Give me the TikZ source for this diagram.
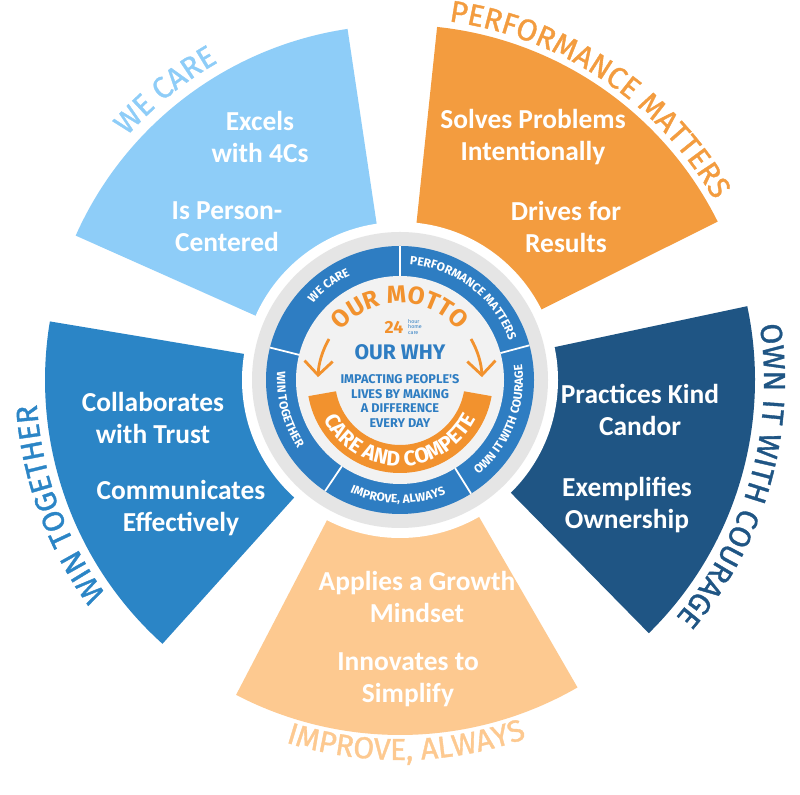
\documentclass[tikz,border=0pt]{standalone}
\usepackage{fontspec}
\setmainfont{Carlito}
\newfontfamily\dinfont{Fira Sans}
\newfontfamily\dinmed{Fira Sans}[FakeBold=1.2]
\usetikzlibrary{decorations.text,arrows.meta}
\definecolor{wecare}{HTML}{8ECDF8}
\definecolor{perform}{HTML}{F39C3F}
\definecolor{ownit}{HTML}{1F5584}
\definecolor{improve}{HTML}{FDC990}
\definecolor{wintog}{HTML}{2B85C6}
\definecolor{ringblue}{HTML}{2E7DC2}
\definecolor{mottoor}{HTML}{F2922E}
\tikzset{every node/.style={font=\bfseries\fontsize{7.8}{9.2}\selectfont,text=white,align=center},
  outerlbl/.style={decorate,decoration={text along path,text align=center}},
  ringlbl/.style={decorate,decoration={text along path,text align=center}}}
\begin{document}
\begin{tikzpicture}[x=0.01cm,y=0.01cm]
\useasboundingbox[fill=white] (0,0) rectangle (800,-795);
\coordinate (c) at (400,-380);
% sectors
\fill[wecare] (c) -- ++(98.5:355) arc[start angle=98.5,end angle=156,radius=355] -- cycle;
\fill[perform] (c) -- ++(26.5:355) arc[start angle=26.5,end angle=84,radius=355] -- cycle;
\fill[ownit] (c) -- ++(-45.5:355) arc[start angle=-45.5,end angle=12,radius=355] -- cycle;
\fill[improve] (c) -- ++(-117.5:355) arc[start angle=-117.5,end angle=-60,radius=355] -- cycle;
\fill[wintog] (c) -- ++(170.5:355) arc[start angle=170.5,end angle=228,radius=355] -- cycle;
% centre disk
\fill[white] (c) circle[radius=158];
\fill[black!10] (c) circle[radius=148];
\fill[ringblue] (c) circle[radius=134];
\fill[black!5] (c) circle[radius=104];
\foreach \a in {90,15,-58,-124,166}
  \draw[white,line width=0.5pt] (c) ++(\a:104) -- ++(\a:30);
% outer labels
\path[outerlbl,decoration={text={|\dinmed\fontsize{8.6}{8.6}\selectfont\color{wecare}|WE CARE}}]
  (c) ++(148:366) arc[start angle=148,end angle=110,radius=366];
\path[outerlbl,decoration={text={|\dinmed\fontsize{8.6}{8.6}\selectfont\color{perform}|PERFORMANCE MATTERS}}]
  (c) ++(88:362) arc[start angle=88,end angle=24,radius=362];
\path[outerlbl,decoration={text={|\dinmed\fontsize{8.6}{8.6}\selectfont\color{ownit}|OWN IT WITH COURAGE}}]
  (c) ++(20:364) arc[start angle=20,end angle=-52,radius=364];
\path[outerlbl,decoration={text={|\dinmed\fontsize{8.6}{8.6}\selectfont\color{improve}|IMPROVE, ALWAYS}}]
  (c) ++(-116:380) arc[start angle=-116,end angle=-62,radius=380];
\path[outerlbl,decoration={text={|\dinmed\fontsize{8.6}{8.6}\selectfont\color{wintog}|WIN TOGETHER}}]
  (c) ++(234:364) arc[start angle=234,end angle=166,radius=364];
% ring labels
\path[ringlbl,decoration={text={|\dinfont\bfseries\fontsize{3.4}{3.4}\selectfont\color{white}|WE CARE}}]
  (c) ++(150:116) arc[start angle=150,end angle=104,radius=116];
\path[ringlbl,decoration={text={|\dinfont\bfseries\fontsize{3.4}{3.4}\selectfont\color{white}|PERFORMANCE MATTERS}}]
  (c) ++(88:116) arc[start angle=88,end angle=17,radius=116];
\path[ringlbl,decoration={text={|\dinfont\bfseries\fontsize{3.4}{3.4}\selectfont\color{white}|OWN IT WITH COURAGE}}]
  (c) ++(-56:123) arc[start angle=-56,end angle=13,radius=123];
\path[ringlbl,decoration={text={|\dinfont\bfseries\fontsize{3.4}{3.4}\selectfont\color{white}|IMPROVE, ALWAYS}}]
  (c) ++(-122:123) arc[start angle=-122,end angle=-60,radius=123];
\path[ringlbl,decoration={text={|\dinfont\bfseries\fontsize{3.4}{3.4}\selectfont\color{white}|WIN TOGETHER}}]
  (c) ++(164:123) arc[start angle=164,end angle=226,radius=123];
% motto
\path[ringlbl,decoration={text={|\dinfont\bfseries\fontsize{7}{7}\selectfont\color{mottoor}|OUR MOTTO}}]
  (c) ++(142:77) arc[start angle=142,end angle=38,radius=77];
\fill[mottoor] (c) ++(190:93) arc[start angle=190,end angle=350,radius=93]
  -- ++(170:28) arc[start angle=350,end angle=190,radius=65] -- cycle;
\path[ringlbl,decoration={text={|\dinfont\bfseries\fontsize{6}{6}\selectfont\color{white}|CARE AND COMPETE}}]
  (c) ++(198:86) arc[start angle=198,end angle=342,radius=86];
\draw[mottoor,line width=0.8pt,-{Straight Barb[length=4pt]}] (c) ++(150:82) arc[start angle=150,end angle=178,radius=82];
\draw[mottoor,line width=0.8pt,-{Straight Barb[length=4pt]}] (c) ++(30:82) arc[start angle=30,end angle=2,radius=82];
\node[text=mottoor,font=\dinfont\bfseries\fontsize{5}{5}\selectfont,inner sep=0.5pt] (logo) at (394,-327) {24};
\node[text=ringblue,font=\dinfont\fontsize{1.5}{1.6}\selectfont,align=left,anchor=west,inner sep=0.5pt] (logotxt) at (logo.east) {hour\\home\\care};
\node[text=ringblue,font=\dinfont\bfseries\fontsize{6}{6}\selectfont] (why) at (400,-352) {OUR WHY};
\node[text=ringblue,font=\dinfont\bfseries\fontsize{3.6}{4.1}\selectfont] (whytxt) at (400,-401) {IMPACTING PEOPLE'S\\LIVES BY MAKING\\A DIFFERENCE\\EVERY DAY};
% sector texts
\node (excels) at (260,-137) {Excels\\with 4Cs};
\node (person) at (227,-227) {Is Person-\\Centered};
\node (solves) at (533,-137) {Solves Problems\\Intentionally};
\node (drives) at (566,-227) {Drives for\\Results};
\node (kind) at (640,-410) {Practices Kind\\Candor};
\node (exempl) at (627,-505) {Exemplifies\\Ownership};
\node (growth) at (417,-597) {Applies a Growth\\Mindset};
\node (innov) at (408,-680) {Innovates to\\Simplify};
\node (collab) at (153,-418) {Collaborates\\with Trust};
\node (commun) at (181,-508) {Communicates\\Effectively};
\end{tikzpicture}
\end{document}
